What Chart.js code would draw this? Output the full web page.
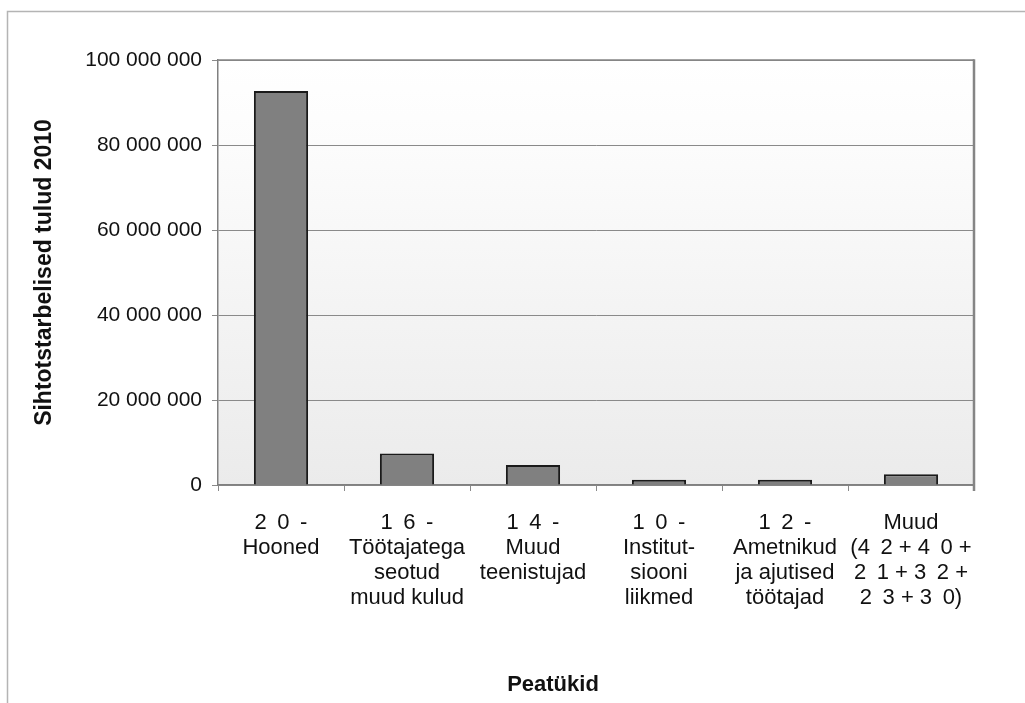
<!DOCTYPE html>
<html>
<head>
<meta charset="utf-8">
<script src="https://cdn.jsdelivr.net/npm/chart.js@4"></script>
<style>
  html, body { margin: 0; padding: 0; background: #fff; }
  #wrap { width: 1025px; height: 703px; position: relative; }
</style>
</head>
<body>
<div id="wrap"><canvas id="chart" width="1025" height="703"></canvas></div>
<script>
// categories (chapters) and 2010 earmarked revenue
const G = ' \u2009'; // wide gap between spaced digits
const categories = [
  ['2' + G + '0' + G + '-', 'Hooned'],
  ['1' + G + '6' + G + '-', 'Töötajatega', 'seotud', 'muud kulud'],
  ['1' + G + '4' + G + '-', 'Muud', 'teenistujad'],
  ['1' + G + '0' + G + '-', 'Institut-', 'siooni', 'liikmed'],
  ['1' + G + '2' + G + '-', 'Ametnikud', 'ja ajutised', 'töötajad'],
  ['Muud', '(4' + G + '2 + 4' + G + '0 +', '2' + G + '1 + 3' + G + '2 +', '2' + G + '3 + 3' + G + '0)']
];
const revenue = [92700000, 7400000, 4700000, 1250000, 1250000, 2550000];
const yTicks = [0, 20000000, 40000000, 60000000, 80000000, 100000000];

const yTitle = 'Sihtotstarbelised tulud 2010';
const xTitle = 'Peatükid';
const FONT = '"Liberation Sans", Arial, sans-serif';

function spaced(v) {
  return String(v).replace(/\B(?=(\d{3})+(?!\d))/g, ' ');
}

// frame, plot background, top/right border and x title
const decor = {
  id: 'decor',
  beforeDraw(chart) {
    const ctx = chart.ctx;
    const a = chart.chartArea;
    ctx.save();
    ctx.strokeStyle = '#b4b4b4';
    ctx.lineWidth = 1.5;
    ctx.beginPath();
    ctx.moveTo(7.5, 703);
    ctx.lineTo(7.5, 11.5);
    ctx.lineTo(1025, 11.5);
    ctx.stroke();
    const g = ctx.createLinearGradient(0, a.top, 0, a.bottom);
    g.addColorStop(0, '#ffffff');
    g.addColorStop(0.2, '#fcfcfc');
    g.addColorStop(1, '#ebebeb');
    ctx.fillStyle = g;
    ctx.fillRect(a.left, a.top, a.right - a.left, a.bottom - a.top);
    ctx.restore();
  },
  afterDraw(chart) {
    const ctx = chart.ctx;
    const a = chart.chartArea;
    ctx.save();
    ctx.strokeStyle = '#858585';
    ctx.lineWidth = 1.5;
    ctx.beginPath();
    ctx.moveTo(a.left, a.top);
    ctx.lineTo(a.right, a.top);
    ctx.stroke();
    ctx.lineWidth = 2.5;
    ctx.beginPath();
    ctx.moveTo(a.right, a.top - 0.75);
    ctx.lineTo(a.right, a.bottom + 6);
    ctx.stroke();
    ctx.fillStyle = '#111';
    ctx.font = 'bold 22px ' + FONT;
    ctx.textAlign = 'center';
    ctx.textBaseline = 'alphabetic';
    ctx.fillText(xTitle, 553, 691);
    ctx.restore();
  }
};

const ctx = document.getElementById('chart').getContext('2d');
new Chart(ctx, {
  type: 'bar',
  data: {
    labels: categories,
    datasets: [{
      data: revenue,
      backgroundColor: '#808080',
      borderColor: '#1a1a1a',
      borderWidth: 2,
      barPercentage: 0.43,
      categoryPercentage: 1
    }]
  },
  options: {
    responsive: false,
    animation: false,
    layout: { padding: { left: 0, top: 60, right: 51, bottom: 0 } },
    plugins: { legend: { display: false }, tooltip: { enabled: false } },
    scales: {
      x: {
        offset: true,
        afterFit(scale) { scale.height = 218; },
        grid: {
          offset: true,
          drawOnChartArea: false,
          color: '#8a8a8a',
          tickLength: 6,
          lineWidth: 1
        },
        border: { color: '#808080', width: 1.5 },
        ticks: {
          color: '#111',
          padding: 19,
          maxRotation: 0,
          autoSkip: false,
          font: { family: FONT, size: 22, lineHeight: 1.14 }
        }
      },
      y: {
        min: 0,
        max: 100000000,
        afterFit(scale) { scale.width = 218; },
        afterBuildTicks(scale) { scale.ticks = yTicks.map(v => ({ value: v })); },
        grid: { color: '#8a8a8a', tickLength: 6, lineWidth: 1 },
        border: { color: '#808080', width: 1.5 },
        ticks: {
          color: '#111',
          padding: 10,
          font: { family: FONT, size: 21 },
          callback: v => spaced(v)
        },
        title: {
          display: true,
          text: yTitle,
          color: '#111',
          padding: { top: 31, bottom: 0 },
          font: { family: FONT, size: 23, weight: 'bold', lineHeight: 1.2 }
        }
      }
    }
  },
  plugins: [decor]
});
</script>
</body>
</html>
